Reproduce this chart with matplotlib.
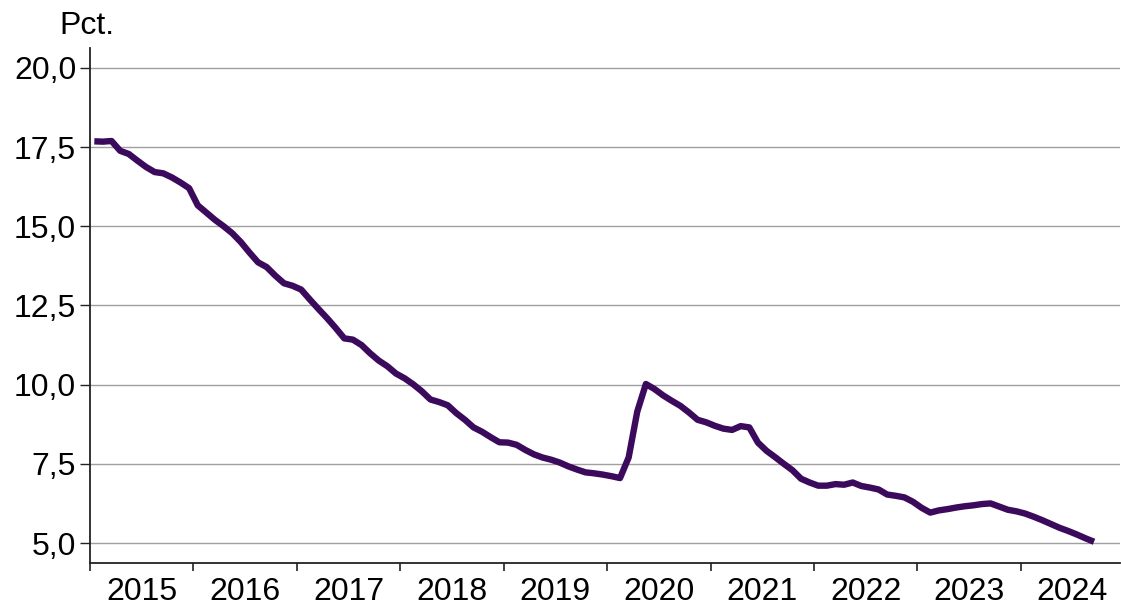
import matplotlib.pyplot as plt
import numpy as np
from matplotlib.ticker import FixedLocator, NullFormatter

plt.rcParams["font.family"] = ["Liberation Sans", "DejaVu Sans"]

YEARS = [str(y) for y in range(2015, 2025)]
Y_TICKS = [5.0, 7.5, 10.0, 12.5, 15.0, 17.5, 20.0]

# monthly values, jan 2015 - sep 2024
VALUES = [
    17.68, 17.67, 17.69, 17.38, 17.28, 17.07, 16.87, 16.71, 16.67, 16.54, 16.38, 16.2,
    15.66, 15.43, 15.2, 15.0, 14.78, 14.5, 14.17, 13.86, 13.71, 13.44, 13.2, 13.12,
    13.0, 12.69, 12.39, 12.1, 11.79, 11.46, 11.42, 11.25, 10.99, 10.76, 10.58, 10.35,
    10.2, 10.01, 9.79, 9.53, 9.45, 9.35, 9.1, 8.89, 8.65, 8.51, 8.34, 8.18,
    8.17, 8.1, 7.94, 7.8, 7.7, 7.63, 7.54, 7.42, 7.32, 7.23, 7.2, 7.16,
    7.11, 7.05, 7.7, 9.15, 10.02, 9.86, 9.66, 9.49, 9.33, 9.12, 8.89, 8.81,
    8.7, 8.61, 8.57, 8.69, 8.65, 8.17, 7.91, 7.71, 7.5, 7.3, 7.03, 6.91,
    6.81, 6.81, 6.86, 6.84, 6.91, 6.8, 6.75, 6.69, 6.53, 6.49, 6.44, 6.3,
    6.11, 5.96, 6.03, 6.07, 6.12, 6.16, 6.19, 6.23, 6.25, 6.15, 6.05, 6.0,
    5.93, 5.83, 5.72, 5.6, 5.48, 5.38, 5.27, 5.15, 5.04,
]

LINE_COLOR = "#3b0a5c"
GRID_COLOR = "#a0a0a0"

fig = plt.figure(figsize=(11.21, 6.06), dpi=100)
ax = fig.add_axes([0.0803, 0.071, 0.9187, 0.850])

x = np.arange(len(VALUES)) + 0.5
ax.plot(x, VALUES, color=LINE_COLOR, linewidth=4.6, solid_joinstyle="round",
        solid_capstyle="butt", zorder=3)

ax.set_xlim(0, 119.5)
ax.set_ylim(4.37, 20.63)

ax.set_yticks(Y_TICKS)
ax.set_yticklabels([f"{v:.1f}".replace(".", ",") for v in Y_TICKS])
ax.yaxis.grid(True, color=GRID_COLOR, linewidth=1.0)
ax.set_axisbelow(True)

ax.xaxis.set_major_locator(FixedLocator(np.arange(0, 120, 12)))
ax.xaxis.set_major_formatter(NullFormatter())
ax.xaxis.set_minor_locator(FixedLocator(np.arange(6, 120, 12)))
ax.set_xticklabels(YEARS, minor=True)
ax.tick_params(axis="x", which="minor", length=0, pad=10, labelsize=23)
ax.tick_params(axis="x", which="major", length=6, width=1.2, color="#222222")
ax.tick_params(axis="y", length=7, width=1.0, pad=3, labelsize=23, color="#222222")

for side in ["top", "right"]:
    ax.spines[side].set_visible(False)
for side in ["left", "bottom"]:
    ax.spines[side].set_color("#222222")
    ax.spines[side].set_linewidth(1.3)

fig.text(0.053, 0.957, "Pct.", fontsize=23, ha="left", va="center")

fig.savefig("out.png", dpi=100)
